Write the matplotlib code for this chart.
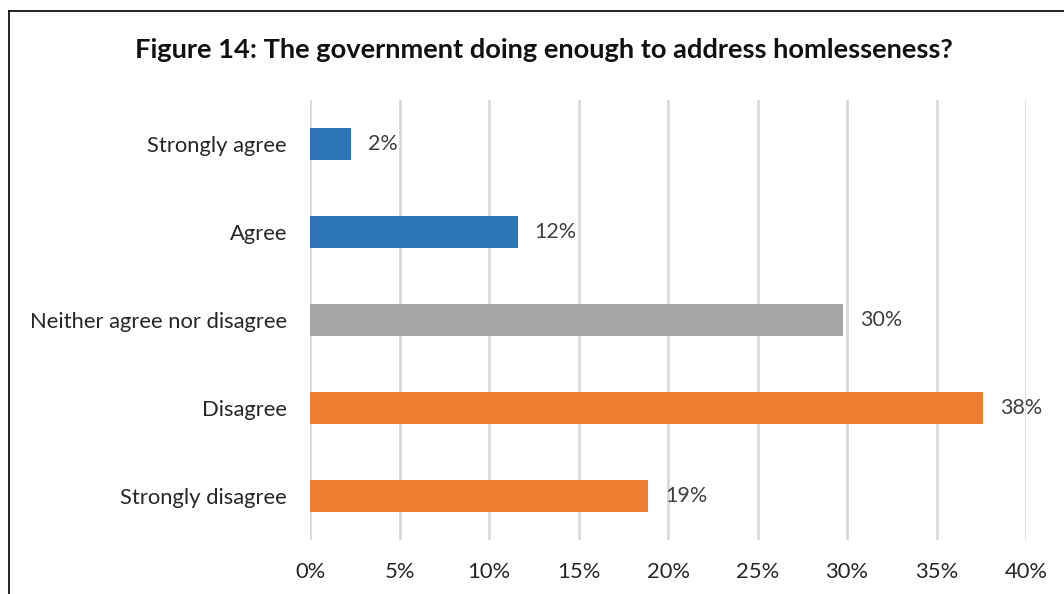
import matplotlib
matplotlib.use('Agg')
import matplotlib.pyplot as plt
from matplotlib.lines import Line2D

plt.rcParams['font.family'] = ['Lato', 'DejaVu Sans']

# 데이터
categories = ['Strongly agree', 'Agree', 'Neither agree nor disagree', 'Disagree', 'Strongly disagree']
values = [2.3, 11.6, 29.8, 37.6, 18.9]
value_labels = ['2%', '12%', '30%', '38%', '19%']
colors = ['#2E75B6', '#2E75B6', '#A5A5A5', '#ED7D31', '#ED7D31']
xticks = [0, 5, 10, 15, 20, 25, 30, 35, 40]

fig = plt.figure(figsize=(10.64, 5.94), dpi=100)
ax = fig.add_axes([310 / 1064, 54 / 594, 716 / 1064, 440 / 594])

ypos = list(range(len(categories)))
ax.barh(ypos, values, height=0.36, color=colors, zorder=3)
for y, v, lab in zip(ypos, values, value_labels):
    ax.text(v + 0.95, y, lab, va='center', ha='left', fontsize=15.5, color='#404040')

ax.set_xlim(0, 40)
ax.set_ylim(4.5, -0.5)
ax.set_yticks(ypos)
ax.set_yticklabels(categories, fontsize=15.8, color='#262626')
ax.set_xticks(xticks)
ax.set_xticklabels([f'{t}%' for t in xticks], fontsize=15.8, color='#262626')
ax.tick_params(length=0)
ax.tick_params(axis='y', pad=16.5)
ax.tick_params(axis='x', pad=16)
for t in xticks:
    ax.axvline(t, color='#D9D9D9', lw=2, zorder=1)
for s in ax.spines.values():
    s.set_visible(False)

fig.text(544 / 1064, 1 - 50 / 594, 'Figure 14: The government doing enough to address homlesseness?',
         ha='center', va='center', fontsize=19.6, fontweight='bold', color='#111111')

# 테두리
fig.add_artist(Line2D([9 / 1064, 9 / 1064], [0, 1 - 11 / 594], color='black', lw=1.2, transform=fig.transFigure))
fig.add_artist(Line2D([9 / 1064, 1], [1 - 11 / 594, 1 - 11 / 594], color='black', lw=1.2, transform=fig.transFigure))

plt.savefig('out.png', dpi=100)
